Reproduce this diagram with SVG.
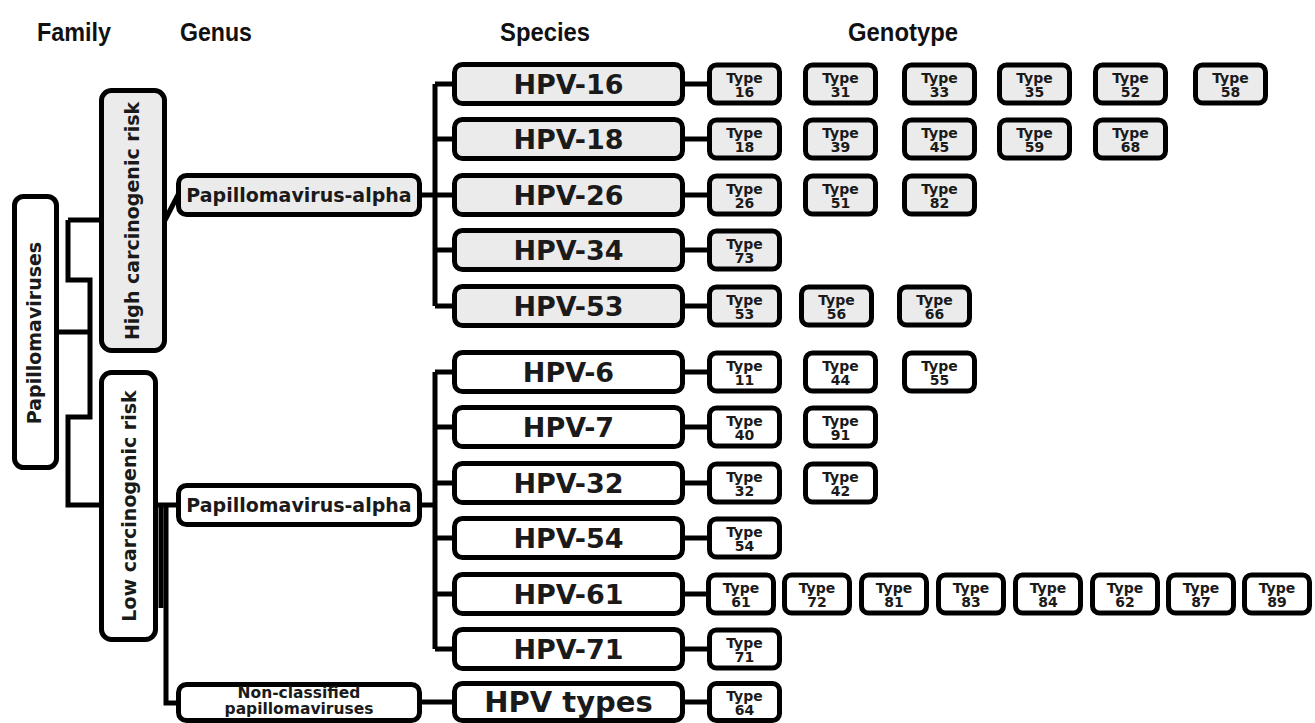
<svg xmlns="http://www.w3.org/2000/svg" width="1315" height="723" viewBox="0 0 1315 723">
<style>
.b{stroke:#000;stroke-width:5}
.hi{fill:#ebebeb}
.lo{fill:#fff}
.c{stroke:#000;stroke-width:5;fill:none;stroke-linejoin:miter}
.t{font-family:"DejaVu Sans",sans-serif;font-weight:bold;fill:#1a1a1a;text-anchor:middle}
.h{font-family:"Liberation Sans",Arial,sans-serif;font-weight:bold;font-size:26px;fill:#111}
.big{font-size:19px}
.sp{font-size:27px}
.spl{font-size:29px}
.ty{font-size:14px}
.nc{font-size:15.5px}
</style>
<rect width="1315" height="723" fill="#fff"/>
<g id="headers">
<text class="h" x="37" y="41" textLength="74" lengthAdjust="spacingAndGlyphs">Family</text>
<text class="h" x="180" y="41" textLength="72" lengthAdjust="spacingAndGlyphs">Genus</text>
<text class="h" x="500" y="41" textLength="90" lengthAdjust="spacingAndGlyphs">Species</text>
<text class="h" x="848" y="41" textLength="110" lengthAdjust="spacingAndGlyphs">Genotype</text>
</g>
<g id="connectors">
<path class="c" d="M68,220 H101 M68,220 V280 H90 V417 H68 V505 H101 M57,332 H90"/>
<path class="c" d="M164,222 L179,193"/>
<path class="c" d="M156,505 H178 M166,505 V703 H178"/>
<path class="c" d="M161,505 V608"/>
<path class="c" d="M420,195 H435 M435,84 V306 M435,84 H454 M435,139 H454 M435,195 H454 M435,250 H454 M435,306 H454"/>
<path class="c" d="M420,505 H435 M435,372 V649 M435,372 H454 M435,427 H454 M435,483 H454 M435,538 H454 M435,594 H454 M435,649 H454"/>
<path class="c" d="M420,702 H454"/>
<path class="c" d="M683,84 H709 M683,139 H709 M683,195 H709 M683,250 H709 M683,306 H709 M683,372 H709 M683,427 H709 M683,483 H709 M683,538 H709 M683,594 H708 M683,649 H709 M683,702 H709"/>
</g>
<g id="n-papillomaviruses">
<rect class="b lo" x="14.5" y="196.5" width="42" height="271" rx="9"/>
<text class="t big" transform="translate(41,333) rotate(-90)">Papillomaviruses</text>
</g>
<g id="n-high">
<rect class="b hi" x="101.5" y="90.5" width="63" height="260" rx="10"/>
<text class="t big" transform="translate(139,221) rotate(-90)">High carcinogenic risk</text>
</g>
<g id="n-low">
<rect class="b lo" x="101.5" y="372.5" width="54" height="267" rx="10"/>
<text class="t big" transform="translate(136,506) rotate(-90)">Low carcinogenic risk</text>
</g>
<g id="n-alpha-high">
<rect class="b hi" x="178.5" y="175.5" width="241" height="39" rx="8"/>
<text class="t big" x="299" y="202">Papillomavirus-alpha</text>
</g>
<g id="n-alpha-low">
<rect class="b lo" x="178.5" y="485.5" width="241" height="39" rx="8"/>
<text class="t big" x="299" y="512">Papillomavirus-alpha</text>
</g>
<g id="n-nonclassified">
<rect class="b lo" x="178.5" y="684.5" width="241" height="36" rx="8"/>
<text class="t nc" x="299" y="698">Non-classified</text>
<text class="t nc" x="299" y="714">papillomaviruses</text>
</g>
<g id="n-hpv16"><rect class="b hi" x="454.5" y="64.5" width="228" height="39" rx="8"/><text class="t sp" x="568.5" y="94">HPV-16</text></g>
<g id="n-hpv18"><rect class="b hi" x="454.5" y="119.5" width="228" height="39" rx="8"/><text class="t sp" x="568.5" y="149">HPV-18</text></g>
<g id="n-hpv26"><rect class="b hi" x="454.5" y="175.5" width="228" height="39" rx="8"/><text class="t sp" x="568.5" y="205">HPV-26</text></g>
<g id="n-hpv34"><rect class="b hi" x="454.5" y="230.5" width="228" height="39" rx="8"/><text class="t sp" x="568.5" y="260">HPV-34</text></g>
<g id="n-hpv53"><rect class="b hi" x="454.5" y="286.5" width="228" height="39" rx="8"/><text class="t sp" x="568.5" y="316">HPV-53</text></g>
<g id="n-hpv6"><rect class="b lo" x="454.5" y="352.5" width="228" height="39" rx="8"/><text class="t sp" x="568.5" y="382">HPV-6</text></g>
<g id="n-hpv7"><rect class="b lo" x="454.5" y="407.5" width="228" height="39" rx="8"/><text class="t sp" x="568.5" y="437">HPV-7</text></g>
<g id="n-hpv32"><rect class="b lo" x="454.5" y="463.5" width="228" height="39" rx="8"/><text class="t sp" x="568.5" y="493">HPV-32</text></g>
<g id="n-hpv54"><rect class="b lo" x="454.5" y="518.5" width="228" height="39" rx="8"/><text class="t sp" x="568.5" y="548">HPV-54</text></g>
<g id="n-hpv61"><rect class="b lo" x="454.5" y="574.5" width="228" height="39" rx="8"/><text class="t sp" x="568.5" y="604">HPV-61</text></g>
<g id="n-hpv71"><rect class="b lo" x="454.5" y="629.5" width="228" height="39" rx="8"/><text class="t sp" x="568.5" y="659">HPV-71</text></g>
<g id="n-hpvtypes"><rect class="b lo" x="454.5" y="683.5" width="228" height="37" rx="8"/><text class="t spl" x="568.5" y="712">HPV types</text></g>

<g id="t16"><rect class="b hi" x="709.5" y="65" width="70" height="38" rx="7"/><text class="t ty"><tspan x="744.5" y="83">Type</tspan><tspan x="744.5" y="96.5">16</tspan></text></g>
<g id="t31"><rect class="b hi" x="805.5" y="65" width="70" height="38" rx="7"/><text class="t ty"><tspan x="840.5" y="83">Type</tspan><tspan x="840.5" y="96.5">31</tspan></text></g>
<g id="t33"><rect class="b hi" x="904.5" y="65" width="70" height="38" rx="7"/><text class="t ty"><tspan x="939.5" y="83">Type</tspan><tspan x="939.5" y="96.5">33</tspan></text></g>
<g id="t35"><rect class="b hi" x="999.5" y="65" width="70" height="38" rx="7"/><text class="t ty"><tspan x="1034.5" y="83">Type</tspan><tspan x="1034.5" y="96.5">35</tspan></text></g>
<g id="t52"><rect class="b hi" x="1095.5" y="65" width="70" height="38" rx="7"/><text class="t ty"><tspan x="1130.5" y="83">Type</tspan><tspan x="1130.5" y="96.5">52</tspan></text></g>
<g id="t58"><rect class="b hi" x="1195.5" y="65" width="70" height="38" rx="7"/><text class="t ty"><tspan x="1230.5" y="83">Type</tspan><tspan x="1230.5" y="96.5">58</tspan></text></g>

<g id="t18"><rect class="b hi" x="709.5" y="120" width="70" height="38" rx="7"/><text class="t ty"><tspan x="744.5" y="138">Type</tspan><tspan x="744.5" y="151.5">18</tspan></text></g>
<g id="t39"><rect class="b hi" x="805.5" y="120" width="70" height="38" rx="7"/><text class="t ty"><tspan x="840.5" y="138">Type</tspan><tspan x="840.5" y="151.5">39</tspan></text></g>
<g id="t45"><rect class="b hi" x="904.5" y="120" width="70" height="38" rx="7"/><text class="t ty"><tspan x="939.5" y="138">Type</tspan><tspan x="939.5" y="151.5">45</tspan></text></g>
<g id="t59"><rect class="b hi" x="999.5" y="120" width="70" height="38" rx="7"/><text class="t ty"><tspan x="1034.5" y="138">Type</tspan><tspan x="1034.5" y="151.5">59</tspan></text></g>
<g id="t68"><rect class="b hi" x="1095.5" y="120" width="70" height="38" rx="7"/><text class="t ty"><tspan x="1130.5" y="138">Type</tspan><tspan x="1130.5" y="151.5">68</tspan></text></g>

<g id="t26"><rect class="b hi" x="709.5" y="176" width="70" height="38" rx="7"/><text class="t ty"><tspan x="744.5" y="194">Type</tspan><tspan x="744.5" y="207.5">26</tspan></text></g>
<g id="t51"><rect class="b hi" x="805.5" y="176" width="70" height="38" rx="7"/><text class="t ty"><tspan x="840.5" y="194">Type</tspan><tspan x="840.5" y="207.5">51</tspan></text></g>
<g id="t82"><rect class="b hi" x="904.5" y="176" width="70" height="38" rx="7"/><text class="t ty"><tspan x="939.5" y="194">Type</tspan><tspan x="939.5" y="207.5">82</tspan></text></g>

<g id="t73"><rect class="b hi" x="709.5" y="231" width="70" height="38" rx="7"/><text class="t ty"><tspan x="744.5" y="249">Type</tspan><tspan x="744.5" y="262.5">73</tspan></text></g>

<g id="t53"><rect class="b hi" x="709.5" y="287" width="70" height="38" rx="7"/><text class="t ty"><tspan x="744.5" y="305">Type</tspan><tspan x="744.5" y="318.5">53</tspan></text></g>
<g id="t56"><rect class="b hi" x="801.5" y="287" width="70" height="38" rx="7"/><text class="t ty"><tspan x="836.5" y="305">Type</tspan><tspan x="836.5" y="318.5">56</tspan></text></g>
<g id="t66"><rect class="b hi" x="899.5" y="287" width="70" height="38" rx="7"/><text class="t ty"><tspan x="934.5" y="305">Type</tspan><tspan x="934.5" y="318.5">66</tspan></text></g>

<g id="t11"><rect class="b lo" x="709.5" y="353" width="70" height="38" rx="7"/><text class="t ty"><tspan x="744.5" y="371">Type</tspan><tspan x="744.5" y="384.5">11</tspan></text></g>
<g id="t44"><rect class="b lo" x="805.5" y="353" width="70" height="38" rx="7"/><text class="t ty"><tspan x="840.5" y="371">Type</tspan><tspan x="840.5" y="384.5">44</tspan></text></g>
<g id="t55"><rect class="b lo" x="904.5" y="353" width="70" height="38" rx="7"/><text class="t ty"><tspan x="939.5" y="371">Type</tspan><tspan x="939.5" y="384.5">55</tspan></text></g>

<g id="t40"><rect class="b lo" x="709.5" y="408" width="70" height="38" rx="7"/><text class="t ty"><tspan x="744.5" y="426">Type</tspan><tspan x="744.5" y="439.5">40</tspan></text></g>
<g id="t91"><rect class="b lo" x="805.5" y="408" width="70" height="38" rx="7"/><text class="t ty"><tspan x="840.5" y="426">Type</tspan><tspan x="840.5" y="439.5">91</tspan></text></g>

<g id="t32"><rect class="b lo" x="709.5" y="464" width="70" height="38" rx="7"/><text class="t ty"><tspan x="744.5" y="482">Type</tspan><tspan x="744.5" y="495.5">32</tspan></text></g>
<g id="t42"><rect class="b lo" x="805.5" y="464" width="70" height="38" rx="7"/><text class="t ty"><tspan x="840.5" y="482">Type</tspan><tspan x="840.5" y="495.5">42</tspan></text></g>

<g id="t54"><rect class="b lo" x="709.5" y="519" width="70" height="38" rx="7"/><text class="t ty"><tspan x="744.5" y="537">Type</tspan><tspan x="744.5" y="550.5">54</tspan></text></g>

<g id="t61"><rect class="b lo" x="708.5" y="575" width="65" height="38" rx="7"/><text class="t ty"><tspan x="741" y="593">Type</tspan><tspan x="741" y="606.5">61</tspan></text></g>
<g id="t72"><rect class="b lo" x="784.5" y="575" width="65" height="38" rx="7"/><text class="t ty"><tspan x="817" y="593">Type</tspan><tspan x="817" y="606.5">72</tspan></text></g>
<g id="t81"><rect class="b lo" x="861.5" y="575" width="65" height="38" rx="7"/><text class="t ty"><tspan x="894" y="593">Type</tspan><tspan x="894" y="606.5">81</tspan></text></g>
<g id="t83"><rect class="b lo" x="938.5" y="575" width="65" height="38" rx="7"/><text class="t ty"><tspan x="971" y="593">Type</tspan><tspan x="971" y="606.5">83</tspan></text></g>
<g id="t84"><rect class="b lo" x="1015.5" y="575" width="65" height="38" rx="7"/><text class="t ty"><tspan x="1048" y="593">Type</tspan><tspan x="1048" y="606.5">84</tspan></text></g>
<g id="t62"><rect class="b lo" x="1092.5" y="575" width="65" height="38" rx="7"/><text class="t ty"><tspan x="1125" y="593">Type</tspan><tspan x="1125" y="606.5">62</tspan></text></g>
<g id="t87"><rect class="b lo" x="1168.5" y="575" width="65" height="38" rx="7"/><text class="t ty"><tspan x="1201" y="593">Type</tspan><tspan x="1201" y="606.5">87</tspan></text></g>
<g id="t89"><rect class="b lo" x="1244.5" y="575" width="65" height="38" rx="7"/><text class="t ty"><tspan x="1277" y="593">Type</tspan><tspan x="1277" y="606.5">89</tspan></text></g>

<g id="t71"><rect class="b lo" x="709.5" y="630" width="70" height="38" rx="7"/><text class="t ty"><tspan x="744.5" y="648">Type</tspan><tspan x="744.5" y="661.5">71</tspan></text></g>

<g id="t64"><rect class="b lo" x="709.5" y="683.5" width="70" height="37" rx="7"/><text class="t ty"><tspan x="744.5" y="701">Type</tspan><tspan x="744.5" y="714.5">64</tspan></text></g>
</svg>
